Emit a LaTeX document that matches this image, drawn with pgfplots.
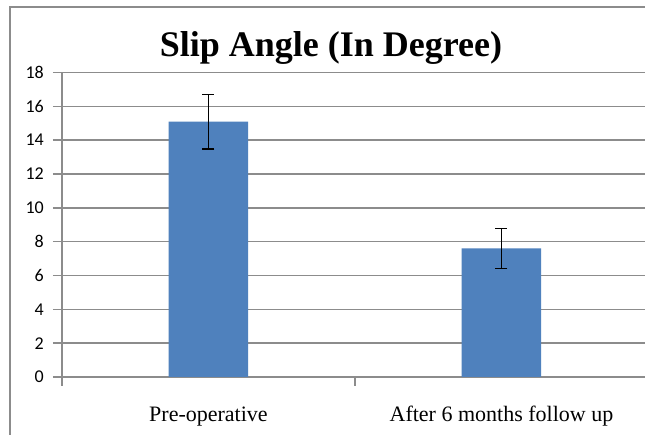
\documentclass[border=0pt]{standalone}
\usepackage{pgfplots}
\pgfplotsset{compat=1.18}
\usepackage{fontspec}
\setmainfont{Liberation Serif}
\newfontfamily\calibri{Carlito}
\definecolor{barblue}{HTML}{4F81BD}
\definecolor{gridgray}{HTML}{8C8C8C}
\begin{document}
\begin{tikzpicture}[x=1pt,y=1pt]
\useasboundingbox (0,0) rectangle (645,435);
\fill[white] (0,0) rectangle (645,435);
\draw[gridgray, line width=2pt] (10,0) -- (10,428);
\draw[gridgray, line width=2pt] (9,428) -- (645,428);
\node[font=\fontsize{36}{40}\selectfont\bfseries, anchor=base, inner sep=0pt] at (331,378) {Slip Angle (In Degree)};
\begin{axis}[
  at={(62pt,58pt)}, anchor=south west,
  scale only axis, width=583pt, height=304.5pt,
  ybar, bar width=79.5pt,
  xmin=-0.5, xmax=1.49, ymin=0, ymax=18,
  ytick={0,2,...,18},
  xtick={-0.5,0.5}, xticklabels={},
  extra x ticks={0,1},
  extra x tick labels={Pre-operative, After 6 months follow up},
  extra x tick style={major tick length=0pt, grid=none,
    xticklabel style={font=\fontsize{22}{24}\selectfont, anchor=base, inner sep=0pt, yshift=-44.7pt}},
  axis x line*=bottom, axis y line*=left,
  axis line style={gridgray, line width=1.5pt, -},
  ymajorgrids, grid style={gridgray, line width=1.5pt},
  tick align=outside, major tick length=9pt,
  tick style={gridgray, line width=1.5pt},
  /pgf/number format/assume math mode=true,
  yticklabel style={anchor=east, inner sep=0pt, xshift=-9pt},
  yticklabel={\fontsize{18}{21}\selectfont\calibri\pgfmathprintnumber{\tick}},
  clip=false,
]
\addplot[fill=barblue, draw=none,
  error bars/.cd, y dir=both, y explicit,
  error bar style={black, line width=1.5pt},
  error mark options={rotate=90, mark size=6pt, line width=1.5pt, black}]
  coordinates {(0,15.09) +- (0,1.62) (1,7.6) +- (0,1.18)};
\end{axis}
\end{tikzpicture}
\end{document}
